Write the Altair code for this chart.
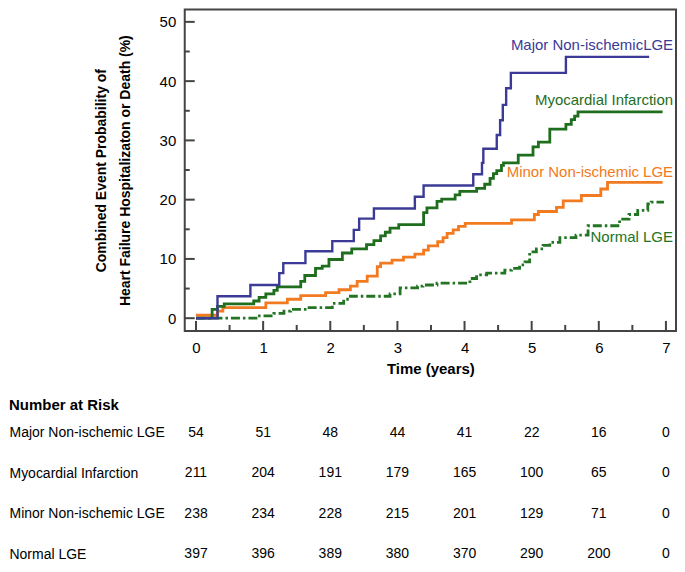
import altair as alt
import pandas as pd

# ---------------- data ----------------
major_t = [0, 0.32, 0.81, 1.24, 1.30, 1.63, 2.03, 2.35, 2.43, 2.65, 3.26, 3.39, 4.13, 4.26, 4.28,
           4.48, 4.53, 4.57, 4.62, 4.69, 5.51, 6.75]
major_v = [0, 3.7, 5.6, 7.6, 9.3, 11.3, 13.0, 14.9, 16.8, 18.5, 20.5, 22.4, 24.3, 26.2, 28.6,
           30.9, 33.4, 36.0, 38.8, 41.4, 44.1, 44.1]

mi_t = [0, 0.24, 0.32, 0.42, 0.86, 0.94, 1.04, 1.16, 1.21, 1.56, 1.62, 1.78, 1.88, 1.98, 2.18,
        2.32, 2.54, 2.65, 2.75, 2.82, 2.89, 3.02, 3.39, 3.44, 3.59, 3.66, 3.86, 3.93, 4.18, 4.30,
        4.38, 4.43, 4.48, 4.55, 4.58, 4.80, 5.02, 5.10, 5.27, 5.51, 5.59, 5.64, 5.69, 6.95]
mi_v = [0, 1.5, 2.0, 2.4, 2.9, 3.5, 4.1, 4.7, 5.3, 6.2, 7.2, 8.4, 8.8, 9.9, 11.0,
        11.7, 12.4, 13.1, 13.9, 14.5, 15.2, 15.8, 17.8, 18.6, 19.7, 20.1, 20.8, 21.4, 21.9, 22.6,
        23.6, 24.4, 24.9, 25.8, 26.2, 27.5, 28.9, 29.7, 31.9, 32.7, 33.5, 34.1, 34.8, 34.8]

minor_t = [0, 0.32, 0.40, 1.04, 1.36, 1.56, 1.93, 2.13, 2.30, 2.40, 2.55, 2.70, 2.75, 2.92, 3.09,
           3.26, 3.39, 3.46, 3.60, 3.68, 3.74, 3.83, 3.91, 4.01, 4.70, 5.04, 5.10, 5.37, 5.47, 5.74,
           6.03, 6.13, 6.95]
minor_v = [0.5, 1.2, 1.8, 2.6, 3.2, 3.8, 4.3, 4.8, 5.4, 6.2, 7.1, 8.7, 9.3, 9.8, 10.3,
           10.8, 11.5, 12.2, 12.9, 13.6, 14.3, 14.9, 15.5, 16.0, 16.6, 17.5, 18.0, 18.7, 19.8, 20.7,
           21.8, 22.9, 22.9]

normal_t = [0, 0.92, 1.16, 1.31, 1.41, 1.66, 2.03, 2.20, 2.30, 2.89, 3.04, 3.30, 3.38, 3.59, 4.08,
            4.18, 4.33, 4.60, 4.70, 4.82, 4.90, 4.97, 5.07, 5.17, 5.27, 5.42, 5.66, 5.84, 6.31, 6.45,
            6.58, 6.73, 6.78, 6.97]
normal_v = [0, 0.4, 0.8, 1.2, 1.5, 1.8, 2.5, 3.2, 3.7, 4.1, 5.1, 5.4, 5.6, 5.9, 6.7,
            7.3, 7.6, 8.1, 8.4, 9.0, 9.5, 11.2, 11.7, 12.3, 12.8, 13.6, 14.0, 15.6, 16.7, 17.5,
            18.2, 19.3, 19.6, 19.6]

series_names = ["Major Non-ischemicLGE", "Myocardial Infarction", "Minor Non-ischemic LGE", "Normal LGE"]
series_colors = ["#3b3b97", "#1e6e1e", "#f27a20", "#237423"]

risk_rows = ["Major Non-ischemic LGE", "Myocardial Infarction", "Minor Non-ischemic LGE", "Normal LGE"]
risk_times = [0, 1, 2, 3, 4, 5, 6, 7]
risk_major = [54, 51, 48, 44, 41, 22, 16, 0]
risk_mi = [211, 204, 191, 179, 165, 100, 65, 0]
risk_minor = [238, 234, 228, 215, 201, 129, 71, 0]
risk_normal = [397, 396, 389, 380, 370, 290, 200, 0]

x_ticks_major = [0, 1, 2, 3, 4, 5, 6, 7]
x_ticks_minor = [0.5, 1.5, 2.5, 3.5, 4.5, 5.5, 6.5]
y_ticks_major = [0, 10, 20, 30, 40, 50]
y_ticks_minor = [5, 15, 25, 35, 45]

# ---------------- layout ----------------
W, H = 492, 322
FONT = "Liberation Sans, Arial, sans-serif"
FRAME = "#444444"

xs = alt.Scale(domain=[-0.168, 7.15], nice=False, zero=False)
ys = alt.Scale(domain=[-2.15, 52.1], nice=False, zero=False)

x_axis = alt.Axis(values=x_ticks_major, ticks=False, domain=False, grid=False,
                  labelFont=FONT, labelFontSize=15, labelColor="black", labelPadding=10,
                  title="Time (years)", titleFont=FONT, titleFontSize=15, titleFontWeight="bold",
                  titleColor="black", titlePadding=6)
y_axis = alt.Axis(values=y_ticks_major, ticks=False, domain=False, grid=False,
                  labelFont=FONT, labelFontSize=15, labelColor="black", labelPadding=9,
                  title=["Combined Event Probability of", "Heart Failure Hospitalizaton or Death (%)"],
                  titleFont=FONT, titleFontSize=14, titleFontWeight="bold", titleColor="black",
                  titlePadding=27, titleLineHeight=24)

X = alt.X("t:Q", scale=xs, axis=x_axis)
Y = alt.Y("v:Q", scale=ys, axis=y_axis)


def line(t, v, color, dash=None, width=2.6):
    kw = dict(interpolate="step-after", color=color, strokeWidth=width)
    if dash:
        kw["strokeDash"] = dash
    return alt.Chart(pd.DataFrame({"t": t, "v": v})).mark_line(**kw).encode(x=X, y=Y)


l_normal = line(normal_t, normal_v, series_colors[3], dash=[9, 3, 2.5, 3], width=2.8)
l_minor = line(minor_t, minor_v, series_colors[2], width=2.8)
l_mi = line(mi_t, mi_v, series_colors[1], width=2.8)
l_major = line(major_t, major_v, series_colors[0], width=2.4)


def end_label(t, v, name, color, dx, dy):
    return alt.Chart(pd.DataFrame({"t": [t[-1]], "v": [v[-1]], "n": [name]})).mark_text(
        align="right", baseline="middle", dx=dx, dy=dy, color=color, font=FONT, fontSize=15
    ).encode(x=X, y=Y, text="n:N")


lab_major = end_label(major_t, major_v, series_names[0], series_colors[0], 24, -11.5)
lab_mi = end_label(mi_t, mi_v, series_names[1], series_colors[1], 10.5, -11.5)
lab_minor = end_label(minor_t, minor_v, series_names[2], series_colors[2], 10.5, -10)
lab_normal = end_label(normal_t, normal_v, series_names[3], series_colors[3], 9, 35)


def xt(vals, length):
    return alt.Chart(pd.DataFrame({"t": vals})).mark_rule(color=FRAME, strokeWidth=2).encode(
        x=X, y=alt.value(H), y2=alt.value(H - length))


def yt(vals, length):
    return alt.Chart(pd.DataFrame({"v": vals})).mark_rule(color=FRAME, strokeWidth=2).encode(
        y=Y, x=alt.value(0), x2=alt.value(length))


top = alt.layer(
    l_normal, l_minor, l_mi, l_major,
    lab_major, lab_mi, lab_minor, lab_normal,
    xt(x_ticks_major, 10), xt(x_ticks_minor, 6), yt(y_ticks_major, 10), yt(y_ticks_minor, 5),
).properties(width=W, height=H, view=alt.ViewBackground(stroke=FRAME, strokeWidth=2))

# ---------------- number at risk table ----------------
rows = []
for name, vals in zip(risk_rows, [risk_major, risk_mi, risk_minor, risk_normal]):
    for tt, n in zip(risk_times, vals):
        rows.append({"row": name, "t": tt, "n": n})
risk_df = pd.DataFrame(rows)

TH = 149.5
table = alt.Chart(risk_df).mark_text(font=FONT, fontSize=14, color="black", baseline="middle").encode(
    x=alt.X("t:Q", scale=xs, axis=None),
    y=alt.Y("row:N", sort=risk_rows,
            scale=alt.Scale(type="point", domain=risk_rows, padding=0.346),
            axis=alt.Axis(ticks=False, domain=False, grid=False, labelAlign="left", labelPadding=176,
                          labelFont=FONT, labelFontSize=14, labelColor="black", title=None,
                          labelBaseline="middle")),
    text="n:Q",
).properties(
    width=W, height=TH,
    title=alt.TitleParams("Number at Risk", anchor="start", frame="bounds", font=FONT,
                          fontSize=15, fontWeight="bold", color="black", offset=6),
    view=alt.ViewBackground(stroke="transparent"),
)

chart = alt.vconcat(top, table, spacing=19).properties(padding=0).configure_view(stroke="transparent")

chart.save("out.html", embed_options={"renderer": "svg", "actions": False})
